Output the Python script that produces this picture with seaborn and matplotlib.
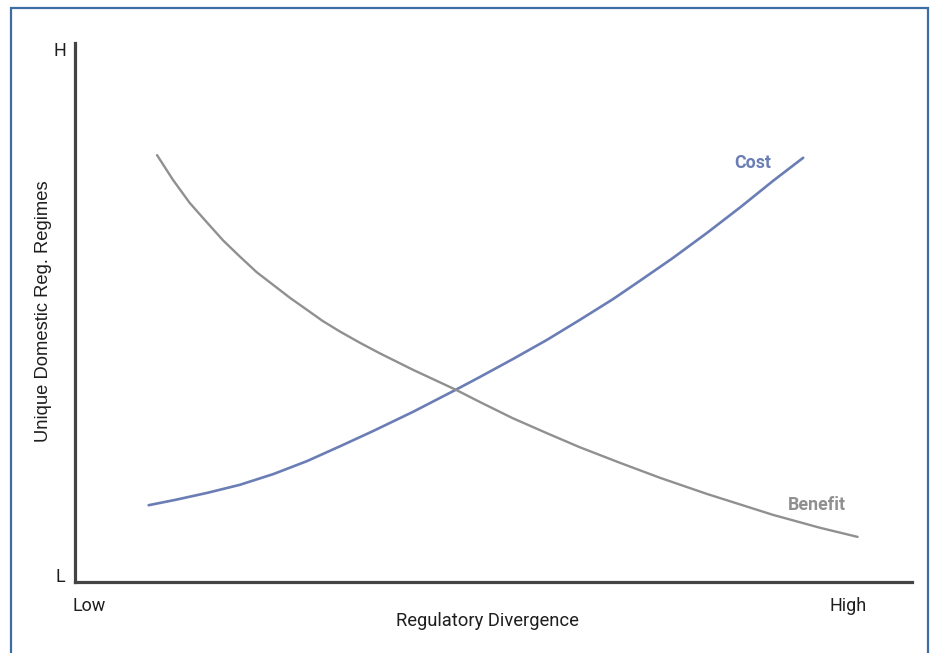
import matplotlib
matplotlib.use("Agg")
import matplotlib.pyplot as plt
from matplotlib.patches import Rectangle
import seaborn as sns
import pandas as pd

# values, in 0-100 units on both axes
cost_x = [8.8, 12.0, 15.8, 19.7, 23.7, 27.7, 31.7, 35.6, 40.4, 45.5, 48.4, 52.3,
          56.4, 60.3, 64.3, 67.5, 71.4, 75.5, 79.5, 83.4, 87.0]
cost_y = [14.3, 15.3, 16.6, 18.1, 20.1, 22.5, 25.3, 28.1, 31.7, 35.8, 38.2, 41.5,
          45.1, 48.8, 52.7, 56.1, 60.3, 65.0, 69.8, 74.7, 79.0]
benefit_x = [9.8, 11.7, 13.7, 15.8, 17.7, 19.7, 21.7, 23.7, 25.7, 27.7, 29.6, 31.7,
             34.1, 36.4, 40.4, 45.5, 48.4, 52.3, 56.4, 60.3, 65.1, 69.9, 75.5, 83.4,
             89.0, 93.5]
benefit_y = [79.5, 74.9, 70.6, 66.9, 63.6, 60.6, 57.7, 55.3, 52.9, 50.7, 48.6, 46.6,
             44.5, 42.6, 39.5, 35.8, 33.5, 30.5, 27.7, 25.1, 22.2, 19.4, 16.4, 12.5,
             10.1, 8.4]

x_ticks = ["Low", "High"]
y_ticks = ["L", "H"]
x_label = "Regulatory Divergence"
y_label = "Unique Domestic Reg. Regimes"

cost_color = "#6a7db5"
benefit_color = "#909090"
axis_color = "#444444"
text_color = "#1e1e1e"
border_color = "#3d6da3"

sns.set_theme(style="white")
plt.rcParams['font.family'] = ['Roboto', 'DejaVu Sans']

cost = pd.DataFrame({"x": cost_x, "y": cost_y})
benefit = pd.DataFrame({"x": benefit_x, "y": benefit_y})

W, H = 930, 653
fig = plt.figure(figsize=(W / 100, H / 100), dpi=100)
ax = fig.add_axes([75 / W, (H - 582) / H, 837 / W, (582 - 43) / H])

sns.lineplot(data=cost, x="x", y="y", color=cost_color, lw=1.9, ax=ax,
             solid_joinstyle="round")
sns.lineplot(data=benefit, x="x", y="y", color=benefit_color, lw=1.7, ax=ax,
             solid_joinstyle="round")

ax.set_xlim(0, 100)
ax.set_ylim(0, (582 - 43) / 5.37)
ax.set_xticks([])
ax.set_yticks([])
ax.set_xlabel("")
ax.set_ylabel("")
for side in ["top", "right"]:
    ax.spines[side].set_visible(False)
for side in ["left", "bottom"]:
    ax.spines[side].set_color(axis_color)
    ax.spines[side].set_linewidth(2.3)

# curve labels
ax.text(81.0, 78.0, "Cost", color=cost_color, fontsize=12.8, fontweight="bold",
        ha="center", va="center")
ax.text(88.6, 14.3, "Benefit", color=benefit_color, fontsize=12.8, fontweight="bold",
        ha="center", va="center")

# end labels and axis titles
fig.text(60 / W, 1 - 51 / H, y_ticks[1], fontsize=13, color=text_color, ha="center", va="center")
fig.text(60 / W, 1 - 577 / H, y_ticks[0], fontsize=13, color=text_color, ha="center", va="center")
fig.text(89 / W, 1 - 606 / H, x_ticks[0], fontsize=13, color=text_color, ha="center", va="center")
fig.text(848 / W, 1 - 606 / H, x_ticks[1], fontsize=13, color=text_color, ha="center", va="center")
fig.text(487 / W, 1 - 621 / H, x_label, fontsize=13.2, color=text_color, ha="center", va="center")
fig.text(44 / W, 1 - 311 / H, y_label, fontsize=13.2, color=text_color, ha="center", va="center",
         rotation=90, family=["Liberation Sans", "DejaVu Sans"])

# frame around the figure
fig.patches.append(Rectangle((11 / W, -0.01), (928 - 11) / W, 1 - 8 / H + 0.01,
                             transform=fig.transFigure, fill=False,
                             edgecolor=border_color, lw=1.6))

fig.savefig("out.png", dpi=100)
